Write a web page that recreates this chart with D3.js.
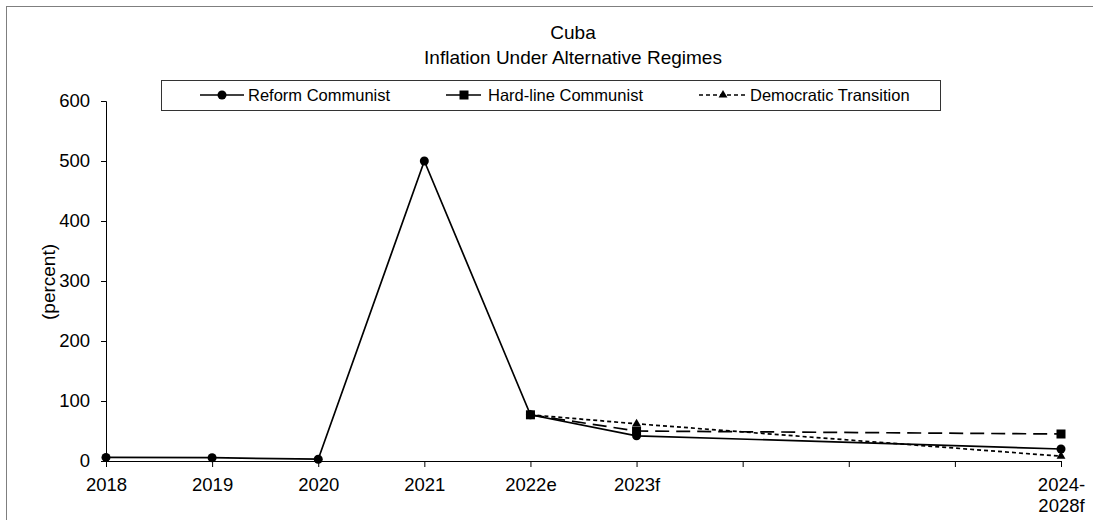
<!DOCTYPE html>
<html>
<head>
<meta charset="utf-8">
<script src="https://cdn.jsdelivr.net/npm/d3@7"></script>
<style>
  html, body { margin: 0; padding: 0; background: #fff; }
  svg { display: block; font-family: "Liberation Sans", Arial, sans-serif; }
</style>
</head>
<body>
<svg id="chart" width="1093" height="520"></svg>
<script>
// Category slots along the x axis (blank slots keep the spacing of the final period)
const categories = ["2018", "2019", "2020", "2021", "2022e", "2023f", "", "", "", "2024-\n2028f"];
const yTicks = [0, 100, 200, 300, 400, 500, 600];

// Inflation, percent
const reformCommunist    = [6, 5.5, 3, 500, 77, 42, null, null, null, 20];
const hardlineCommunist  = [null, null, null, null, 77, 50, null, null, null, 45];
const democraticTransit  = [null, null, null, null, 77, 62, null, null, null, 8];

const seriesNames = ["Reform Communist", "Hard-line Communist", "Democratic Transition"];

const series = [
  { name: seriesNames[0], values: reformCommunist,   dash: null,   marker: "circle" },
  { name: seriesNames[1], values: hardlineCommunist, dash: "14,7", marker: "square" },
  { name: seriesNames[2], values: democraticTransit, dash: "4,3",  marker: "triangle" }
];

const FONT = "Liberation Sans, Arial, sans-serif";
const svg = d3.select("#chart");

// outer frame
svg.append("rect")
  .attr("x", 6.5).attr("y", 6.5)
  .attr("width", 1100).attr("height", 530)
  .attr("fill", "none").attr("stroke", "#7f7f7f").attr("stroke-width", 1);

const plot = { left: 106, right: 1061, top: 101, bottom: 461 };

const x = d3.scalePoint()
  .domain(d3.range(categories.length))
  .range([plot.left, plot.right]);

const y = d3.scaleLinear()
  .domain([0, 600])
  .range([plot.bottom, plot.top]);

// titles
svg.append("text").attr("x", 573).attr("y", 39).attr("text-anchor", "middle")
  .attr("font-size", 19).text("Cuba");
svg.append("text").attr("x", 573).attr("y", 64).attr("text-anchor", "middle")
  .attr("font-size", 19).text("Inflation Under Alternative Regimes");

// y axis
const yAxis = svg.append("g")
  .attr("transform", `translate(${plot.left},0)`)
  .call(d3.axisLeft(y).tickValues(yTicks).tickSize(5).tickPadding(11).tickFormat(d3.format("d")));
yAxis.selectAll("text").attr("font-size", 18.5).attr("fill", "#000").attr("font-family", FONT);
yAxis.selectAll("line, path").attr("stroke", "#000");

// x axis
const xAxis = svg.append("g")
  .attr("transform", `translate(0,${plot.bottom})`)
  .call(d3.axisBottom(x).tickSize(6).tickPadding(11).tickFormat(() => ""));
xAxis.selectAll("line, path").attr("stroke", "#000");
xAxis.selectAll(".tick").each(function(i) {
  const lines = categories[i].split("\n");
  const t = d3.select(this).select("text")
    .attr("font-size", 18.5).attr("fill", "#000")
    .attr("font-family", FONT);
  t.selectAll("tspan").data(lines).join("tspan")
    .attr("x", 0).attr("dy", (d, k) => k === 0 ? "0.71em" : "1.13em")
    .text(d => d);
});

// y axis title
svg.append("text")
  .attr("transform", `translate(55,282) rotate(-90)`)
  .attr("text-anchor", "middle").attr("font-size", 19)
  .text("(percent)");

// marker drawing
function drawMarker(g, type, cx, cy) {
  if (type === "circle") {
    g.append("circle").attr("cx", cx).attr("cy", cy).attr("r", 4.5).attr("fill", "#000");
  } else if (type === "square") {
    g.append("rect").attr("x", cx - 4.5).attr("y", cy - 4.5).attr("width", 9).attr("height", 9).attr("fill", "#000");
  } else {
    g.append("path").attr("d", d3.symbol(d3.symbolTriangle, 34)()).attr("transform", `translate(${cx},${cy})`).attr("fill", "#000");
  }
}

// series lines (gaps are bridged)
const line = d3.line()
  .x(d => x(d.i))
  .y(d => y(d.v));

const marks = svg.append("g");
series.slice().reverse().forEach(s => {
  const pts = s.values.map((v, i) => ({ i, v })).filter(d => d.v !== null);
  marks.append("path")
    .datum(pts)
    .attr("d", line)
    .attr("fill", "none")
    .attr("stroke", "#000")
    .attr("stroke-width", 1.7)
    .attr("stroke-dasharray", s.dash);
});
series.forEach(s => {
  s.values.forEach((v, i) => { if (v !== null) drawMarker(marks, s.marker, x(i), y(v)); });
});

// legend
const legend = svg.append("g");
legend.append("rect")
  .attr("x", 161.5).attr("y", 80.5).attr("width", 779).attr("height", 30)
  .attr("fill", "#fff").attr("stroke", "#333").attr("stroke-width", 1);

const legendItems = [
  { s: series[0], x0: 200, x1: 244, tx: 248 },
  { s: series[1], x0: 446, x1: 482, tx: 488 },
  { s: series[2], x0: 699, x1: 747, tx: 750 }
];
legendItems.forEach(it => {
  const cy = 95;
  legend.append("line")
    .attr("x1", it.x0).attr("x2", it.x1).attr("y1", cy).attr("y2", cy)
    .attr("stroke", "#000").attr("stroke-width", 1.7)
    .attr("stroke-dasharray", it.s.dash);
  drawMarker(legend, it.s.marker, (it.x0 + it.x1) / 2, cy);
  legend.append("text").attr("x", it.tx).attr("y", cy + 6)
    .attr("font-size", 16.5).text(it.s.name);
});
</script>
</body>
</html>
